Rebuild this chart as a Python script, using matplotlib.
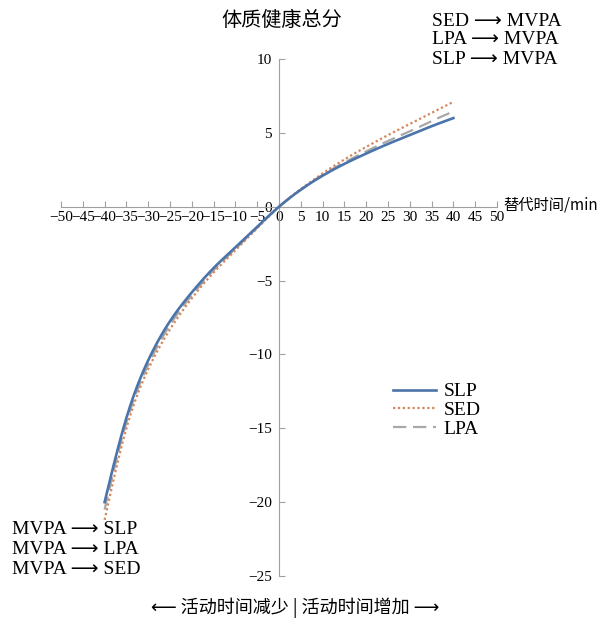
import matplotlib
matplotlib.use("Agg")
import matplotlib.pyplot as plt
import numpy as np

plt.rcParams['font.family'] = ['Liberation Serif', 'Noto Sans CJK SC', 'DejaVu Sans']
plt.rcParams['axes.unicode_minus'] = True

x_vals = [-40, -35, -30, -25, -20, -15, -10, -5, 0, 5, 10, 15, 20, 25, 30, 35, 40]
slp = [-20.0, -14.3, -10.4, -7.75, -5.8, -4.15, -2.75, -1.35, 0, 1.15, 2.1, 2.9, 3.6, 4.25, 4.85, 5.45, 6.0]
sed = [-21.2, -15.0, -11.0, -8.3, -6.2, -4.45, -2.95, -1.45, 0, 1.2, 2.25, 3.2, 4.05, 4.85, 5.6, 6.35, 7.1]
lpa = [-20.5, -14.6, -10.7, -8.0, -6.0, -4.3, -2.85, -1.4, 0, 1.15, 2.15, 3.0, 3.75, 4.45, 5.1, 5.8, 6.45]
x_ticks = list(range(-50, 55, 5))
y_ticks = list(range(-25, 15, 5))

fig = plt.figure(figsize=(6.01, 6.25), dpi=100)
ax = fig.add_axes([61/601, 1-576/625, 436/601, 517/625])

def smooth(xs, ys):
    # natural cubic spline through the read-off points, for drawing only
    xs = np.asarray(xs, float); ys = np.asarray(ys, float)
    n = len(xs)
    h = np.diff(xs)
    A = np.zeros((n, n)); b = np.zeros(n)
    A[0, 0] = 1; A[-1, -1] = 1
    for i in range(1, n - 1):
        A[i, i-1] = h[i-1]; A[i, i] = 2*(h[i-1] + h[i]); A[i, i+1] = h[i]
        b[i] = 3*((ys[i+1]-ys[i])/h[i] - (ys[i]-ys[i-1])/h[i-1])
    c = np.linalg.solve(A, b)
    xf = np.linspace(xs[0], xs[-1], 400)
    idx = np.clip(np.searchsorted(xs, xf) - 1, 0, n - 2)
    bb = (ys[1:]-ys[:-1])/h - h*(2*c[:-1] + c[1:])/3
    d = (c[1:] - c[:-1])/(3*h)
    t = xf - xs[idx]
    yf = ys[idx] + bb[idx]*t + c[idx]*t**2 + d[idx]*t**3
    return xf, yf

c_slp = '#4a74aa'; c_sed = '#d4865a'; c_lpa = '#a8a8a8'
ax.plot(*smooth(x_vals, lpa), color=c_lpa, lw=1.6, ls=(0, (6, 3)), label='LPA', zorder=2)
ax.plot(*smooth(x_vals, sed), color=c_sed, lw=1.6, ls=(0, (1, 1.2)), label='SED', zorder=3)
ax.plot(*smooth(x_vals, slp), color=c_slp, lw=1.9, label='SLP', zorder=4)

ax.set_xlim(-50, 50)
ax.set_ylim(-25, 10)
for s in ['top', 'right']:
    ax.spines[s].set_visible(False)
ax.spines['left'].set_position(('data', 0))
ax.spines['bottom'].set_position(('data', 0))
ax.spines['left'].set_color('#a0a0a0')
ax.spines['bottom'].set_color('#a0a0a0')
ax.set_xticks(x_ticks)
ax.set_yticks(y_ticks)
ax.set_xticklabels([str(v).replace('-', '\u2212') for v in x_ticks])
ax.set_yticklabels([str(v).replace('-', '\u2212') for v in y_ticks])
ax.tick_params(axis='x', direction='in', length=4, color='#a0a0a0', labelsize=11, pad=3)
ax.tick_params(axis='y', direction='in', length=4, color='#a0a0a0', labelsize=11, pad=5)
ax.patch.set_alpha(0)

handles, labels = ax.get_legend_handles_labels()
order = [2, 1, 0]
leg = ax.legend([handles[i] for i in order], [labels[i] for i in order],
                loc='upper left', bbox_to_anchor=(385/601, 1-375/625), bbox_transform=fig.transFigure,
                frameon=False, fontsize=14, handlelength=2.2, labelspacing=0.05,
                handletextpad=0.4, borderaxespad=0)

fam = ['Liberation Serif', 'DejaVu Sans']
fig.text(282/601, 1-20/625, '体质健康总分', ha='center', va='center', fontsize=14.5,
         family=['Noto Sans CJK SC'])
fig.text(503/601, 1-205/625, '替代时间/min', ha='left', va='center', fontsize=11,
         family=['Noto Sans CJK SC', 'Liberation Serif'])
for i, t in enumerate(['SED \u27f6 MVPA', 'LPA \u27f6 MVPA', 'SLP \u27f6 MVPA']):
    fig.text(432/601, 1-(21+19*i)/625, t, ha='left', va='center', fontsize=14, family=fam)
for i, t in enumerate(['MVPA \u27f6 SLP', 'MVPA \u27f6 LPA', 'MVPA \u27f6 SED']):
    fig.text(12/601, 1-(530+20*i)/625, t, ha='left', va='center', fontsize=14, family=fam)
fig.text(295/601, 1-608/625, '\u27f5 活动时间减少 | 活动时间增加 \u27f6', ha='center', va='center',
         fontsize=13, family=['Noto Sans CJK SC', 'DejaVu Sans'])

fig.savefig('out.png', dpi=100)
